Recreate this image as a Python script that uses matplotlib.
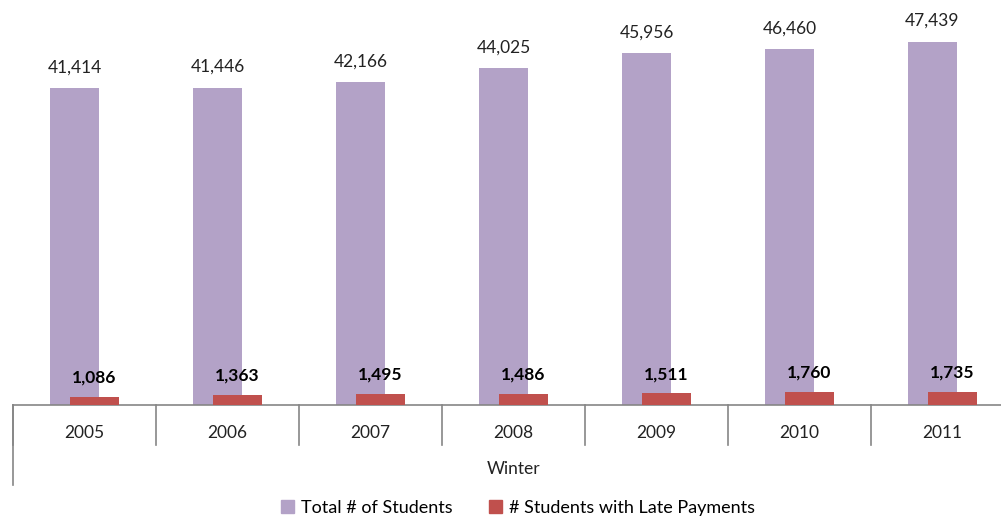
import numpy as np
import matplotlib.pyplot as plt

plt.rcParams['font.family'] = ['Lato', 'DejaVu Sans']

# data
years = ['2005', '2006', '2007', '2008', '2009', '2010', '2011']
total_students = [41414, 41446, 42166, 44025, 45956, 46460, 47439]
late_payments = [1086, 1363, 1495, 1486, 1511, 1760, 1735]

purple = '#B3A2C7'
red = '#C0504D'

fig = plt.figure(figsize=(10.01, 5.18), dpi=100)
ax = fig.add_axes([13 / 1001, 113 / 518, 988 / 1001, 383 / 518])

x = np.arange(len(years))
w = 0.343
off = 0.07
ax.bar(x - off, total_students, w, color=purple, zorder=2)
ax.bar(x + off, late_payments, w, color=red, zorder=3)

for xi, v in zip(x, total_students):
    ax.annotate(f'{v:,}', (xi - off, v), xytext=(0, 9), textcoords='offset points',
                ha='center', va='bottom', fontsize=12.5, color='#222222')
for xi, v in zip(x, late_payments):
    ax.annotate(f'{v:,}', (xi + off, v), xytext=(0, 8), textcoords='offset points',
                ha='center', va='bottom', fontsize=12.5, fontweight='bold', color='black')

ax.set_xlim(-0.5, -0.5 + 988 / 143)
ax.set_ylim(0, 50000)
ax.set_yticks([])
ax.set_xticks([])
for s in ['top', 'right', 'left']:
    ax.spines[s].set_visible(False)
ax.spines['bottom'].set_color('#868686')
ax.spines['bottom'].set_linewidth(1.2)

# category axis with separators
trans = ax.get_xaxis_transform()
for k in range(len(years)):
    ax.plot([k - 0.5, k - 0.5], [0, -40 / 383], transform=trans, color='#868686',
            lw=1.2, clip_on=False)
    ax.text(k, -28 / 383, years[k], transform=trans, ha='center', va='center',
            fontsize=12.5, color='#222222')
ax.plot([-0.5, -0.5], [0, -80 / 383], transform=trans, color='#868686', lw=1.2,
        clip_on=False)
ax.text(3, -64 / 383, 'Winter', transform=trans, ha='center', va='center',
        fontsize=12.5, color='#222222')

# legend
h1 = plt.Rectangle((0, 0), 1, 1, color=purple)
h2 = plt.Rectangle((0, 0), 1, 1, color=red)
fig.legend([h1, h2], ['Total # of Students', '# Students with Late Payments'],
           loc='center', bbox_to_anchor=(518 / 1001, 1 - 508 / 518), ncol=2,
           frameon=False, fontsize=13, handlelength=0.7, handleheight=0.7,
           handletextpad=0.4, columnspacing=2.0)

fig.savefig('out.png', dpi=100)
